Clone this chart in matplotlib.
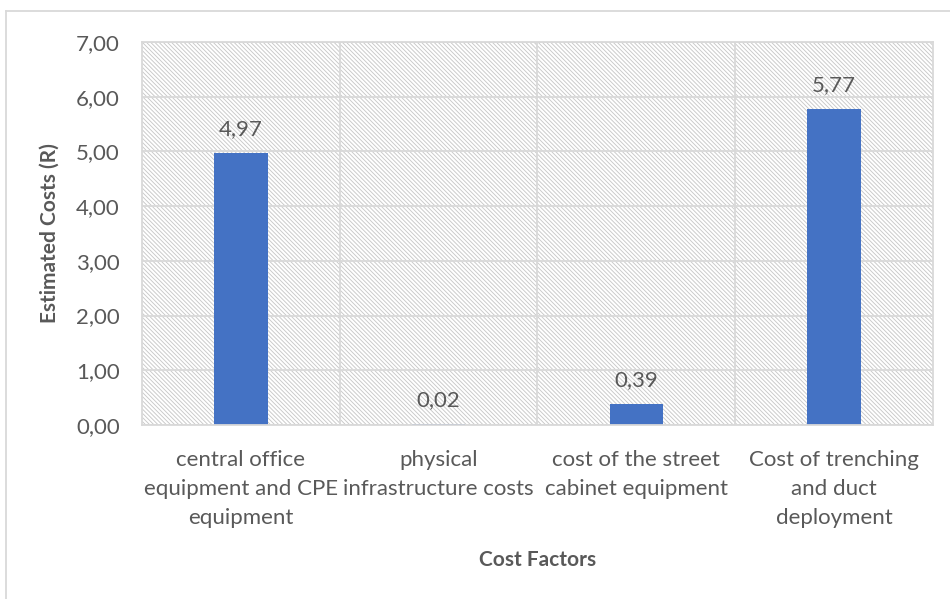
import matplotlib.pyplot as plt
from matplotlib.patches import Rectangle
from matplotlib.lines import Line2D
from matplotlib.ticker import FixedLocator

# cost per factor
factors = ["central office\nequipment and CPE\nequipment",
           "physical\ninfrastructure costs",
           "cost of the street\ncabinet equipment",
           "Cost of trenching\nand duct\ndeployment"]
costs = [4.97, 0.02, 0.39, 5.77]
yticks = [0, 1, 2, 3, 4, 5, 6, 7]

text_col = "#595959"
grid_col = "#d9d9d9"
bar_col = "#4472C4"

plt.rcParams["font.family"] = ["Lato", "DejaVu Sans"]
plt.rcParams["hatch.linewidth"] = 0.65

fig = plt.figure(figsize=(9.5, 5.99), dpi=100)
ax = fig.add_axes([0.1495, 0.2905, 0.8325, 0.6394])

# hatched plot area
bg = Rectangle((0, 0), 1, 1, transform=ax.transAxes, facecolor="white",
               edgecolor="#c8c8c8", hatch="\\" * 8, linewidth=0, zorder=0.1)
ax.add_patch(bg)

x = list(range(len(factors)))
ax.bar(x, costs, width=0.27, color=bar_col, zorder=2)

for xi, v in zip(x, costs):
    ax.annotate(f"{v:.2f}".replace(".", ","), (xi, v), xytext=(0, 10),
                textcoords="offset points", ha="center", va="bottom",
                fontsize=16, color=text_col)

ax.set_xlim(-0.5, len(factors) - 0.5)
ax.set_ylim(0, 7)
ax.set_yticks(yticks)
ax.set_yticklabels([f"{t:.2f}".replace(".", ",") for t in yticks])
ax.set_xticks(x)
ax.set_xticklabels(factors, linespacing=1.55)
ax.xaxis.set_minor_locator(FixedLocator([0.5, 1.5, 2.5]))

ax.set_axisbelow(True)
ax.grid(axis="y", color=grid_col, linewidth=1.3)
ax.grid(axis="x", which="minor", color=grid_col, linewidth=1.3)
ax.tick_params(axis="both", which="both", length=0, labelsize=16,
               labelcolor=text_col)
ax.tick_params(axis="y", pad=16)
ax.tick_params(axis="x", pad=18)

for s in ax.spines.values():
    s.set_color(grid_col)
    s.set_linewidth(1.3)

ax.set_ylabel("Estimated Costs (R)", fontsize=15, fontweight="bold",
              color=text_col, labelpad=12)
ax.set_xlabel("Cost Factors", fontsize=15, fontweight="bold",
              color=text_col, labelpad=16)

# outer chart border
fig.add_artist(Line2D([6 / 950, 6 / 950], [0, 1 - 11 / 599], color=grid_col,
                      linewidth=1.3, transform=fig.transFigure))
fig.add_artist(Line2D([6 / 950, 1], [1 - 11 / 599, 1 - 11 / 599],
                      color=grid_col, linewidth=1.3, transform=fig.transFigure))

fig.savefig("out.png", dpi=100)
